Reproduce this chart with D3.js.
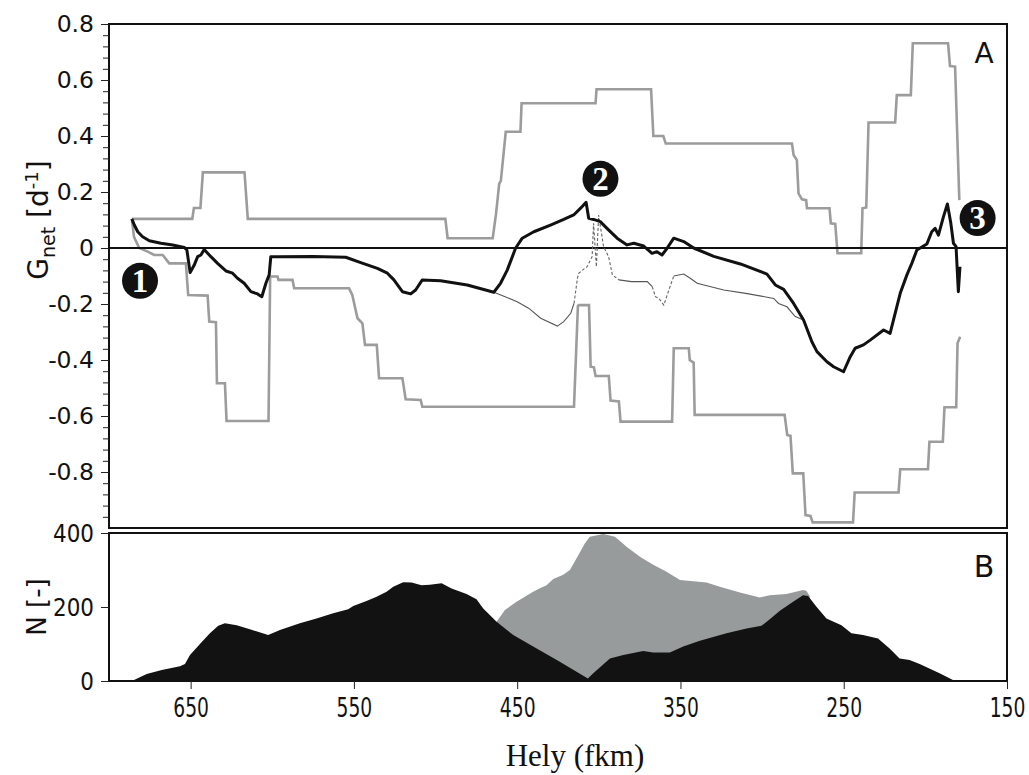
<!DOCTYPE html>
<html lang="en">
  <head>
    <meta charset="UTF-8" />
    <title>Gnet</title>
    <script src="https://cdn.jsdelivr.net/npm/d3@7"></script>
    <style>
      html,
      body {
        margin: 0;
        padding: 0;
        background: #fff;
      }
    </style>
  </head>
  <body>
    <script>
      // upper / lower envelope (step lines, grey)
      const upperEnv = [
        [686, 0.104], [649, 0.104], [648, 0.143], [644, 0.143], [642.5, 0.27],
        [617, 0.27], [615, 0.104], [494, 0.104], [492.6, 0.035], [465, 0.035],
        [463, 0.12], [461, 0.23], [460, 0.24], [457, 0.415], [448, 0.415],
        [447.3, 0.517], [402, 0.517], [401.4, 0.567], [368, 0.567], [366.6, 0.4],
        [360.5, 0.4], [359, 0.373], [281.7, 0.373], [280.7, 0.332], [278.7, 0.314],
        [277.7, 0.195], [275.6, 0.174], [273, 0.171], [272.5, 0.142], [258.7, 0.142],
        [257.9, 0.088], [255.2, 0.086], [253.8, -0.019], [239.3, -0.019], [238.5, 0.142],
        [236.2, 0.145], [234.8, 0.448], [218.5, 0.448], [217.5, 0.546], [208.9, 0.546],
        [207.7, 0.731], [186.1, 0.731], [184.9, 0.65], [181.8, 0.648], [179.2, 0.171]
      ];
      const lowerEnv = [
        [686, 0.104], [684.7, 0.04], [681.5, 0], [676.3, -0.013], [672.3, -0.025],
        [667.1, -0.025], [663.1, -0.055], [652.9, -0.055], [651.5, -0.168], [639.6, -0.17],
        [638.6, -0.263], [634.5, -0.265], [633.9, -0.483], [629, -0.483], [628, -0.618],
        [602.3, -0.618], [601.3, -0.102], [596.8, -0.102], [596.2, -0.114], [587.6, -0.114],
        [586.6, -0.144], [553, -0.144], [551, -0.168], [547.8, -0.251], [544.8, -0.269],
        [543.2, -0.346], [536, -0.346], [534.6, -0.465], [520.3, -0.465], [518.3, -0.54],
        [509.1, -0.543], [508.1, -0.567], [415.2, -0.567], [412.8, -0.207], [412.2, -0.204],
        [406, -0.204], [405, -0.424], [403, -0.426], [402, -0.457], [393.9, -0.457],
        [392.8, -0.545], [387.7, -0.548], [386.7, -0.62], [355.1, -0.62], [354.1, -0.358],
        [344.9, -0.358], [344.3, -0.4], [341.9, -0.41], [341.3, -0.596], [286.2, -0.596],
        [284.6, -0.668], [282.6, -0.671], [281.2, -0.805], [274.8, -0.805], [273.4, -0.954],
        [270.4, -0.957], [269, -0.98], [244.3, -0.98], [243.3, -0.873], [216.4, -0.873],
        [215.4, -0.79], [198.4, -0.79], [197.5, -0.692], [189.3, -0.692], [188.3, -0.569],
        [181.1, -0.569], [180.3, -0.34], [178.7, -0.317]
      ];

      // main Gnet line (thick)
      const gnetMain = [
        [686, 0.104], [684.5, 0.082], [682.4, 0.058], [679.4, 0.04], [675.3, 0.026],
        [668.2, 0.017], [661, 0.011], [653.9, 0.002], [652.3, -0.007], [650.3, -0.088],
        [647.8, -0.061], [645.7, -0.031], [643.7, -0.025], [641.7, -0.005], [637.6, -0.031],
        [633.5, -0.055], [628.4, -0.082], [624.3, -0.09], [621.3, -0.108], [617.2, -0.126],
        [613.1, -0.156], [609, -0.164], [606.4, -0.174], [603.9, -0.126], [601.9, -0.096],
        [600.9, -0.031], [596.8, -0.031], [575, -0.03], [555, -0.033], [545.8, -0.052],
        [535.6, -0.073], [529.5, -0.09], [525.5, -0.114], [520.3, -0.156], [515.2, -0.164],
        [512.2, -0.15], [508.1, -0.114], [496.9, -0.117], [480.6, -0.132], [464.3, -0.158],
        [460.2, -0.126], [456.1, -0.079], [451, -0.001], [446.9, 0.035], [439.8, 0.058],
        [429.6, 0.082], [421.5, 0.102], [415.4, 0.118], [410.2, 0.148], [407.8, 0.163],
        [406.2, 0.106], [403.2, 0.102], [399.1, 0.094], [395, 0.07], [388.8, 0.035],
        [382.7, 0.011], [378.6, 0.017], [372.5, 0.007], [367.4, -0.019], [364.4, -0.013],
        [361.3, -0.025], [358.2, -0.001], [354.1, 0.035], [348, 0.023], [341.9, 0],
        [329.6, -0.03], [313.3, -0.057], [297, -0.093], [291.9, -0.132], [286.8, -0.148],
        [280.7, -0.198], [274.6, -0.257], [269.5, -0.335], [266.4, -0.37], [260.3, -0.406],
        [256.2, -0.424], [250.1, -0.442], [246, -0.388], [243, -0.358], [237.9, -0.346],
        [233.8, -0.329], [225.6, -0.293], [221.6, -0.305], [217.5, -0.21], [215.4, -0.162],
        [211.3, -0.096], [208.3, -0.055], [205.2, -0.007], [199.1, 0.014], [196.1, 0.058],
        [194, 0.07], [192, 0.046], [188.9, 0.112], [186.5, 0.157], [184.4, 0.088],
        [182.8, 0.017], [181.2, 0.005], [179.8, -0.156], [178.8, -0.067]
      ];

      // alternative Gnet line (thin), solid and dashed parts
      const gnetAltA = [
        [464.3, -0.158], [457, -0.175], [450, -0.192], [443, -0.215], [435.6, -0.251],
        [425.4, -0.279], [421.5, -0.263], [417.2, -0.233], [415.2, -0.198]
      ];
      const gnetAltDashA = [
        [415.2, -0.198], [413.1, -0.108], [412.3, -0.09], [410, -0.079], [407.2, -0.067],
        [404.1, -0.031], [403.2, 0.088], [401.5, -0.067], [400.1, 0.118], [397.1, 0.005],
        [394, -0.031], [391.7, -0.096], [387.7, -0.114]
      ];
      const gnetAltB = [
        [387.7, -0.114], [380, -0.12], [370.3, -0.12], [367.3, -0.138]
      ];
      const gnetAltDashB = [
        [367.3, -0.138], [365.3, -0.174], [363.2, -0.18], [360.2, -0.204], [357.1, -0.15],
        [354.1, -0.1]
      ];
      const gnetAltC = [
        [354.1, -0.1], [348, -0.093], [344, -0.108], [339.8, -0.126], [323.5, -0.15],
        [310, -0.162], [292.9, -0.18], [289.9, -0.198], [284.8, -0.21], [279.7, -0.245],
        [274.6, -0.257]
      ];

      // panel B: N
      const nBlack = [
        [700, 0], [686, 0], [676.9, 19], [667.7, 30], [656.5, 40], [653.5, 46], [650.4, 70],
        [644.3, 100], [638.2, 129], [633.1, 149], [629, 156], [621.8, 151], [613.7, 140],
        [602.5, 124], [595.3, 138], [583.1, 156], [572.9, 169], [562.7, 183], [553.5, 194],
        [550.4, 203], [542.3, 216], [536.1, 228], [530, 241], [525.9, 255], [519.8, 267],
        [514.7, 266], [508.6, 259], [503.5, 260], [496.3, 264], [490.2, 250], [481, 235],
        [474.9, 221], [470.8, 196], [462.6, 160], [452.4, 124], [440.2, 93], [423.9, 52],
        [406.7, 7], [403.4, 21], [393.2, 61], [385, 70], [372.8, 81], [366.7, 77],
        [356.5, 77], [348.3, 93], [338.1, 109], [321.8, 129], [309.5, 142], [300.4, 149],
        [295.3, 167], [289.1, 190], [281, 214], [274.9, 232], [271.8, 230], [266.7, 201],
        [260.6, 169], [251.4, 151], [245.3, 129], [238.2, 124], [229, 115], [221.9, 88],
        [215.8, 61], [209.7, 57], [203.5, 46], [191.3, 21], [183.1, 3], [182, 0], [150, 0]
      ];
      const nGrey = [
        [462.6, 160], [457.5, 192], [450.4, 214], [440.2, 241], [436.1, 251], [432, 259],
        [427.9, 276], [421.8, 287], [417.7, 300], [413.6, 332], [408.5, 372], [405.5, 390],
        [397.3, 397], [390.1, 390], [383, 363], [374.8, 336], [366.7, 314], [358.5, 295],
        [350.3, 273], [334, 266], [325.9, 255], [313.6, 239], [301.4, 226], [295.3, 232],
        [285.1, 235], [274.9, 246], [272.9, 244], [270.8, 230]
      ];

      const gTicks = [-0.8, -0.6, -0.4, -0.2, 0, 0.2, 0.4, 0.6, 0.8];
      const nTicks = [0, 200, 400];
      const kmTicks = [650, 550, 450, 350, 250, 150];

      const markers = [
        { label: '1', km: 681, g: -0.117 },
        { label: '2', km: 399, g: 0.247 },
        { label: '3', km: 168, g: 0.107 }
      ];

      const width = 1029,
        height = 775;

      const svg = d3
        .select('body')
        .append('svg')
        .attr('width', width)
        .attr('height', height)
        .style('font-family', 'DejaVu Sans, Verdana, sans-serif');

      const x = d3.scaleLinear().domain([700, 150]).range([109, 1007]);
      const yA = d3.scaleLinear().domain([-1, 0.8]).range([528, 24]);
      const yB = d3.scaleLinear().domain([0, 400]).range([681, 533]);

      const fmt = d => (d < 0 ? '-' : '') + (d === 0 ? '0' : Math.abs(d).toFixed(1));

      // ---------- panel B areas ----------
      const areaB = d3
        .area()
        .x(d => x(d[0]))
        .y0(yB(0))
        .y1(d => yB(d[1]));

      svg.append('path').attr('d', areaB(nGrey)).style('fill', '#979b9c');
      svg.append('path').attr('d', areaB(nBlack)).style('fill', '#121212');

      // ---------- panel A lines ----------
      const lineA = d3
        .line()
        .x(d => x(d[0]))
        .y(d => yA(d[1]));

      [upperEnv, lowerEnv].forEach(s => {
        svg
          .append('path')
          .attr('d', lineA(s))
          .style('fill', 'none')
          .style('stroke', '#9c9c9c')
          .style('stroke-width', 2.6);
      });

      svg
        .append('line')
        .attr('x1', x(700))
        .attr('x2', x(150))
        .attr('y1', yA(0))
        .attr('y2', yA(0))
        .style('stroke', '#111')
        .style('stroke-width', 2);

      [gnetAltA, gnetAltB, gnetAltC].forEach(s => {
        svg
          .append('path')
          .attr('d', lineA(s))
          .style('fill', 'none')
          .style('stroke', '#555')
          .style('stroke-width', 1.1);
      });
      [gnetAltDashA, gnetAltDashB].forEach(s => {
        svg
          .append('path')
          .attr('d', lineA(s))
          .style('fill', 'none')
          .style('stroke', '#666')
          .style('stroke-width', 1.1)
          .style('stroke-dasharray', '3,2');
      });

      svg
        .append('path')
        .attr('d', lineA(gnetMain))
        .style('fill', 'none')
        .style('stroke', '#111')
        .style('stroke-width', 3)
        .style('stroke-linejoin', 'round');

      // ---------- frames ----------
      svg
        .append('rect')
        .attr('x', x(700))
        .attr('y', yA(0.8))
        .attr('width', x(150) - x(700))
        .attr('height', yA(-1) - yA(0.8))
        .style('fill', 'none')
        .style('stroke', '#111')
        .style('stroke-width', 2);

      svg
        .append('rect')
        .attr('x', x(700))
        .attr('y', yB(400))
        .attr('width', x(150) - x(700))
        .attr('height', yB(0) - yB(400))
        .style('fill', 'none')
        .style('stroke', '#111')
        .style('stroke-width', 2);

      // ---------- axes ----------
      const minor = d3
        .range(-25, 21)
        .map(i => i * 0.04)
        .filter(v => Math.abs(Math.round(v * 5) - v * 5) > 1e-6);

      svg
        .append('g')
        .attr('transform', `translate(${x(700)},0)`)
        .call(d3.axisLeft(yA).tickValues(minor).tickSize(6).tickFormat(''))
        .call(g => g.select('.domain').remove())
        .selectAll('line')
        .style('stroke', '#222');

      const axA = svg
        .append('g')
        .attr('transform', `translate(${x(700)},0)`)
        .call(d3.axisLeft(yA).tickValues(gTicks).tickSize(8).tickPadding(7).tickFormat(fmt));
      axA.select('.domain').remove();
      axA.selectAll('line').style('stroke', '#222');
      axA
        .selectAll('text')
        .style('font-size', '23.5px')
        .style('fill', '#111')
        .style('font-family', 'DejaVu Sans, sans-serif');

      const axB = svg
        .append('g')
        .attr('transform', `translate(${x(700)},0)`)
        .call(d3.axisLeft(yB).tickValues(nTicks).tickSize(8).tickPadding(7));
      axB.select('.domain').remove();
      axB.selectAll('line').style('stroke', '#222');
      axB
        .selectAll('text')
        .style('font-size', '25px')
        .style('fill', '#111')
        .style('font-family', 'DejaVu Sans, sans-serif')
        .attr('transform', 'translate(-15,0) scale(0.86,1) translate(15,0)');

      const axX = svg
        .append('g')
        .attr('transform', `translate(0,${yB(0)})`)
        .call(d3.axisBottom(x).tickValues(kmTicks).tickSize(8).tickPadding(10));
      axX.select('.domain').remove();
      axX.selectAll('line').style('stroke', '#222');
      axX
        .selectAll('text')
        .style('font-size', '26px')
        .style('fill', '#111')
        .style('font-family', 'DejaVu Sans, sans-serif')
        .attr('transform', 'scale(0.72,1)');

      // ---------- titles ----------
      const yTitle = svg
        .append('text')
        .attr('transform', `translate(48,${yA(0.1)}) rotate(-90)`)
        .attr('text-anchor', 'middle')
        .style('font-size', '28px')
        .style('fill', '#111');
      yTitle.append('tspan').text('G');
      yTitle.append('tspan').attr('dy', 7).style('font-size', '19px').text('net');
      yTitle.append('tspan').attr('dy', -7).text(' [d');
      yTitle.append('tspan').attr('dy', -10).style('font-size', '18px').text('-1');
      yTitle.append('tspan').attr('dy', 10).text(']');

      svg
        .append('text')
        .attr('transform', `translate(46,${yB(200)}) rotate(-90)`)
        .attr('text-anchor', 'middle')
        .style('font-size', '26px')
        .style('fill', '#111')
        .text('N [-]');

      svg
        .append('text')
        .attr('x', 575)
        .attr('y', 766)
        .attr('text-anchor', 'middle')
        .style('font-family', 'Liberation Serif, Times New Roman, serif')
        .style('font-size', '31px')
        .style('fill', '#111')
        .text('Hely (fkm)');

      svg
        .append('text')
        .attr('x', 984)
        .attr('y', 63)
        .attr('text-anchor', 'middle')
        .style('font-size', '28px')
        .style('fill', '#111')
        .text('A');

      svg
        .append('text')
        .attr('x', 984)
        .attr('y', 577)
        .attr('text-anchor', 'middle')
        .style('font-size', '30px')
        .style('fill', '#111')
        .text('B');

      // ---------- numbered markers ----------
      const mk = svg
        .selectAll('g.marker')
        .data(markers)
        .join('g')
        .attr('class', 'marker')
        .attr('transform', d => `translate(${x(d.km)},${yA(d.g)})`);
      mk.append('circle').attr('r', 18).style('fill', '#111');
      mk
        .append('text')
        .attr('text-anchor', 'middle')
        .attr('dy', 11)
        .style('font-family', 'Liberation Serif, serif')
        .style('font-weight', 'bold')
        .style('font-size', '33px')
        .style('fill', '#fff')
        .text(d => d.label);
    </script>
  </body>
</html>
